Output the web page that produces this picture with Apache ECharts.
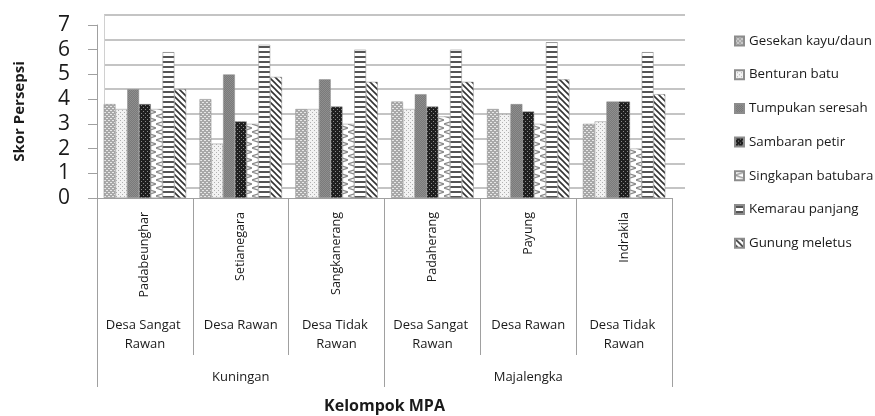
<!DOCTYPE html>
<html><head><meta charset="utf-8">
<script src="https://cdn.jsdelivr.net/npm/echarts@6/dist/echarts.min.js"></script>
<style>html,body{margin:0;padding:0;background:#fff}#c{width:875px;height:416px}</style>
</head><body><div id="c"></div><script>
const villages = ['Padabeunghar','Setianegara','Sangkanerang','Padaherang','Payung','Indrakila'];
const levels = ['Desa Sangat Rawan','Desa Rawan','Desa Tidak Rawan','Desa Sangat Rawan','Desa Rawan','Desa Tidak Rawan'];
const regencies = ['Kuningan','Majalengka'];
const seriesNames = ['Gesekan kayu/daun','Benturan batu','Tumpukan seresah','Sambaran petir','Singkapan batubara','Kemarau panjang','Gunung meletus'];
const gesekan   = [3.8, 4.0, 3.6, 3.9, 3.6, 3.0];
const benturan  = [3.6, 2.2, 3.6, 3.6, 3.4, 3.1];
const tumpukan  = [4.4, 5.0, 4.8, 4.2, 3.8, 3.9];
const sambaran  = [3.8, 3.1, 3.7, 3.7, 3.5, 3.9];
const singkapan = [3.6, 3.0, 3.0, 3.3, 3.0, 2.0];
const kemarau   = [5.9, 6.2, 6.0, 6.0, 6.3, 5.9];
const gunung    = [4.4, 4.9, 4.7, 4.7, 4.8, 4.2];
const yMin = 0, yMax = 7, yStep = 1;
const xTitle = 'Kelompok MPA';
const yTitle = 'Skor Persepsi';

const FONT = 'Open Sans';
function pat(w, h, draw) {
  const c = document.createElement('canvas'); c.width = w; c.height = h;
  const g = c.getContext('2d'); draw(g, w, h);
  return { image: c, repeat: 'repeat' };
}
const patterns = [
  pat(4, 4, g => { g.fillStyle = '#a8a8a8'; g.fillRect(0,0,4,4); g.fillStyle = '#e8e8e8'; g.fillRect(0,0,2,1); g.fillRect(2,2,2,1); }),
  pat(4, 4, g => { g.fillStyle = '#f2f2f2'; g.fillRect(0,0,4,4); g.fillStyle = '#b0b0b0'; g.fillRect(0,0,1,1); g.fillRect(2,2,1,1); }),
  pat(2, 2, g => { g.fillStyle = '#7a7a7a'; g.fillRect(0,0,2,2); g.fillStyle = '#8e8e8e'; g.fillRect(0,0,1,1); g.fillRect(1,1,1,1); }),
  pat(4, 4, g => { g.fillStyle = '#1f1f1f'; g.fillRect(0,0,4,4); g.fillStyle = '#8a8a8a'; g.fillRect(1,1,1,1); g.fillRect(3,3,1,1); }),
  pat(12, 8, g => { g.fillStyle = '#ffffff'; g.fillRect(0,0,12,8); g.strokeStyle = '#8a8a8a'; g.lineWidth = 1.2; g.beginPath(); g.moveTo(12,0); g.lineTo(0,4); g.lineTo(12,8); g.stroke(); }),
  pat(4, 5, g => { g.fillStyle = '#ffffff'; g.fillRect(0,0,4,5); g.fillStyle = '#555555'; g.fillRect(0,1,4,2); }),
  pat(6, 6, g => { g.fillStyle = '#ffffff'; g.fillRect(0,0,6,6); g.strokeStyle = '#333333'; g.lineWidth = 1.6; g.beginPath(); g.moveTo(0,0); g.lineTo(6,6); g.moveTo(-1,5); g.lineTo(1,7); g.moveTo(5,-1); g.lineTo(7,1); g.stroke(); })
];
const allData = [gesekan, benturan, tumpukan, sambaran, singkapan, kemarau, gunung];

const chart = echarts.init(document.getElementById('c'), null, { renderer: 'canvas' });
const axisGrey = '#a0a0a0';
const textCol = '#1a1a1a';
chart.setOption({
  animation: false,
  textStyle: { fontFamily: FONT },
  legend: {
    orient: 'vertical', left: 734, top: 34, padding: 0, itemWidth: 9, itemHeight: 9, itemGap: 19.7, icon: 'rect',
    data: seriesNames,
    textStyle: { fontFamily: FONT, fontSize: 13.3, color: textCol, lineHeight: 14 }
  },
  grid: [
    { left: 97, right: 203, top: 25, bottom: 218 },
    { left: 104, right: 190, top: 15, bottom: 228 }
  ],
  xAxis: [
    { gridIndex: 0, type: 'category', data: villages, position: 'bottom',
      axisLine: { show: true, lineStyle: { color: axisGrey } },
      axisTick: { show: true, interval: 0, alignWithLabel: false, length: 157, lineStyle: { color: axisGrey } },
      axisLabel: { rotate: 90, margin: 14, interval: 0, fontSize: 12.5, color: textCol, fontFamily: FONT } },
    { gridIndex: 0, type: 'category', data: levels, position: 'bottom',
      axisLine: { show: false }, axisTick: { show: false },
      axisLabel: { margin: 118, interval: 0, fontSize: 13, width: 92, overflow: 'break', lineHeight: 19, color: textCol, fontFamily: FONT } },
    { gridIndex: 0, type: 'category', data: regencies, position: 'bottom',
      axisLine: { show: false },
      axisTick: { show: true, interval: 0, alignWithLabel: false, length: 189, lineStyle: { color: axisGrey } },
      axisLabel: { margin: 173, interval: 0, fontSize: 13, color: textCol, fontFamily: FONT },
      name: xTitle, nameLocation: 'middle', nameGap: 200,
      nameTextStyle: { fontWeight: 'bold', fontSize: 16, color: textCol, fontFamily: FONT } },
    { gridIndex: 1, type: 'category', data: villages, show: false }
  ],
  yAxis: [
    { gridIndex: 0, type: 'value', min: yMin, max: yMax, interval: yStep,
      axisLine: { show: true, lineStyle: { color: axisGrey } },
      axisTick: { show: true, length: 9, lineStyle: { color: axisGrey } },
      axisLabel: { fontSize: 21, margin: 27, color: textCol, fontFamily: FONT },
      splitLine: { show: false },
      name: yTitle, nameLocation: 'middle', nameGap: 70,
      nameTextStyle: { fontWeight: 'bold', fontSize: 15, color: textCol, fontFamily: FONT } },
    { gridIndex: 1, type: 'value', min: yMin, max: yMax, interval: yStep,
      axisLine: { show: true, lineStyle: { color: '#d0d0d0' } },
      axisTick: { show: false }, axisLabel: { show: false },
      splitLine: { show: true, lineStyle: { color: '#c4c4c4', width: 2 } } }
  ],
  series: seriesNames.map((n, i) => ({
    name: n, type: 'bar', xAxisIndex: 0, yAxisIndex: 0,
    data: allData[i], barGap: '0%', barCategoryGap: '14%',
    itemStyle: { color: patterns[i], borderColor: '#8c8c8c', borderWidth: 0.5 }
  }))
});
</script></body></html>
